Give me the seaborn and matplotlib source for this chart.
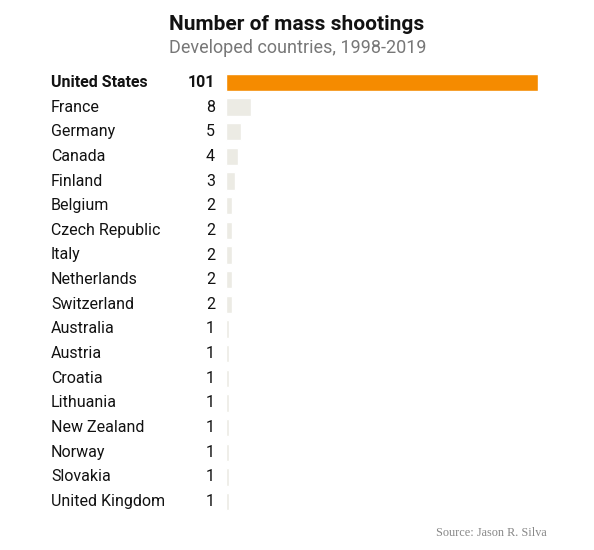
import pandas as pd
import matplotlib.pyplot as plt
import seaborn as sns

countries = ["United States", "France", "Germany", "Canada", "Finland", "Belgium",
             "Czech Republic", "Italy", "Netherlands", "Switzerland", "Australia",
             "Austria", "Croatia", "Lithuania", "New Zealand", "Norway", "Slovakia",
             "United Kingdom"]
shootings = [101, 8, 5, 4, 3, 2, 2, 2, 2, 2, 1, 1, 1, 1, 1, 1, 1, 1]

df = pd.DataFrame({"country": countries, "n": shootings})
df["hl"] = ["us" if c == "United States" else "other" for c in countries]

sns.set_style("white")
plt.rcParams["font.family"] = ["Roboto", "DejaVu Sans"]

fig = plt.figure(figsize=(5.94, 5.50), dpi=100)
ax = fig.add_axes([226 / 594, 1 - 514 / 550, 312 / 594, (514 - 70) / 550])

sns.barplot(data=df, x="n", y="country", hue="hl", dodge=False, legend=False,
            palette={"us": "#F58B00", "other": "#ECEBE4"}, width=0.7,
            saturation=1, ax=ax)
ax.set_xlim(0, 101)
ax.set_ylim(len(countries) - 0.5, -0.5)
ax.set_xlabel("")
ax.set_ylabel("")
ax.set_xticks([])
ax.set_yticks([])
sns.despine(ax=ax, left=True, bottom=True)

for i, (c, v) in enumerate(zip(countries, shootings)):
    bold = "bold" if i == 0 else "normal"
    ax.text(-175 / 312 * 101, i, c, ha="left", va="center", fontsize=11.5,
            fontweight=bold, color="#121212")
    ax.text(-11 / 312 * 101, i, str(v), ha="right", va="center", fontsize=11.5,
            fontweight=bold, color="#121212")

fig.text(297 / 594, 1 - 25 / 550, "Number of mass shootings", ha="center",
         va="center", fontsize=15, fontweight="bold", color="#121212")
fig.text(298 / 594, 1 - 48 / 550, "Developed countries, 1998-2019", ha="center",
         va="center", fontsize=13, color="#777777")
fig.text(547 / 594, 1 - 533 / 550, "Source: Jason R. Silva", ha="right",
         va="center", fontsize=8.8, color="#888888", family="Liberation Serif")

fig.savefig("out.png", dpi=100)
